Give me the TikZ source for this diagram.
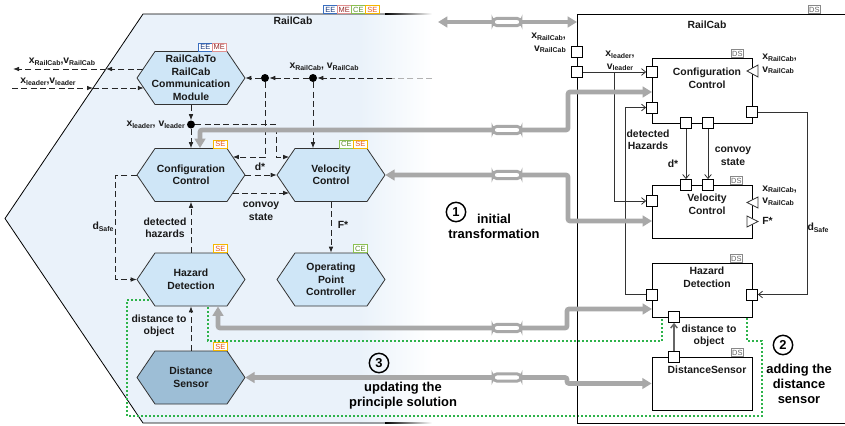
\documentclass[tikz,border=0pt]{standalone}
\usepackage{fontspec}
\setmainfont{Liberation Sans}
\usetikzlibrary{arrows.meta,calc}
\definecolor{hexfill}{HTML}{CFE6F7}
\definecolor{dsfill}{HTML}{9DBED6}
\definecolor{lbfill}{HTML}{EAF2FA}
\definecolor{gline}{HTML}{A8A8A8}
\definecolor{grn}{HTML}{2DB34A}
\definecolor{eeB}{HTML}{3A6FC0}\definecolor{eeT}{HTML}{1A3A80}
\definecolor{meB}{HTML}{E09090}\definecolor{meT}{HTML}{9A2A2A}
\definecolor{ceB}{HTML}{8CC152}\definecolor{ceT}{HTML}{5B8C2A}
\definecolor{seB}{HTML}{F5B700}\definecolor{seT}{HTML}{E8561A}
\definecolor{dsB}{HTML}{888888}\definecolor{dsT}{HTML}{666666}
\newcommand\lsub[1]{\raisebox{-0.3ex}{\fontsize{5.2}{5.2}\selectfont #1}}
\newcommand\hexnode[5]{%
  \filldraw[hexline, fill=#4] (#2-54,#3) -- (#2-36,#3-26.5) -- (#2+36,#3-26.5) -- (#2+54,#3) -- (#2+36,#3+26.5) -- (#2-36,#3+26.5) -- cycle;
  \node[hextext] (#1) at (#2,#3) {#5};}
\tikzset{
  lbl/.style={font=\bfseries\fontsize{7.8}{9.4}\selectfont, align=center, inner sep=0pt, text=black!90},
  bigl/.style={font=\bfseries\fontsize{9.7}{11.5}\selectfont, align=center, inner sep=0pt},
  hextext/.style={lbl, minimum width=81pt, minimum height=39.75pt},
  hexline/.style={draw=black!80, line width=0.6pt},
  dsh/.style={draw=black!85, line width=0.75pt, dash pattern=on 4.5pt off 2.5pt, -{Latex[length=4.5pt,width=3.5pt]}},
  dshn/.style={draw=black!85, line width=0.75pt, dash pattern=on 4.5pt off 2.5pt},
  dot/.style={circle, fill=black, minimum size=6pt, inner sep=0pt},
  tag/.style={draw, fill=white, minimum width=10.5pt, minimum height=6.2pt, inner sep=0pt, font=\fontsize{5.6}{5.6}\selectfont, anchor=south west, line width=0.5pt},
  tagEE/.style={tag, draw=eeB, text=eeT},
  tagME/.style={tag, draw=meB, text=meT},
  tagCE/.style={tag, draw=ceB, text=ceT},
  tagSE/.style={tag, draw=seB, text=seT},
  tagDS/.style={tag, draw=dsB, text=dsT, minimum width=9pt},
  rbox/.style={draw=black, fill=white, line width=0.6pt, inner sep=0pt},
  port/.style={draw=black, fill=white, line width=0.6pt, minimum size=8.25pt, inner sep=0pt},
  rline/.style={draw=black!80, line width=0.6pt},
  rarr/.style={rline, -{Straight Barb[length=3pt,width=5pt]}},
  garrow/.style={draw=gline, line width=3.5pt, rounded corners=1.5pt, {Triangle[length=7pt,width=8pt]}-{Triangle[length=7pt,width=8pt]}},
  capsule/.style={draw=gline, fill=white, line width=2.2pt, rounded corners=3pt, minimum width=21pt, minimum height=5.5pt, inner sep=0pt},
  grnbox/.style={draw=grn, line width=1pt, dash pattern=on 1.5pt off 1.5pt},
  circ/.style={circle, draw, line width=1.1pt, minimum size=14.5pt, inner sep=0pt, font=\bfseries\fontsize{9.7}{10}\selectfont},
}
\begin{document}
\begin{tikzpicture}[x=0.75pt,y=-0.75pt]
\useasboundingbox (0,0) rectangle (845,425);
\clip (0,0) rectangle (845,425);

% ---------- left RailCab ----------
\fill[lbfill] (143,14) -- (360,14) -- (360,423) -- (143,423) -- (5,218.5) -- cycle;
\shade[left color=lbfill, right color=white] (359.5,14) rectangle (432,423);
\draw[black, line width=0.6pt] (385,14) -- (143,14) -- (5,218.5) -- (143,423) -- (385,423);
\shade[left color=black, right color=white] (385,13.6) rectangle (432,14.4);
\shade[left color=black, right color=white] (385,422.6) rectangle (432,423.4);
\node[lbl] (lrc) at (293,21) {RailCab};
\node[tagEE] (tl1) at (323,14) {EE};
\node[tagME] (tl2) at (337,14) {ME};
\node[tagCE] (tl3) at (351,14) {CE};
\node[tagSE] (tl4) at (365,14) {SE};

% green dotted region
\draw[grnbox] (127,300) -- (208,300) -- (208,341) -- (662,341) -- (662,306) -- (747,306) -- (747,341) -- (762,341) -- (762,416) -- (127,416) -- cycle;

% hexagons
\hexnode{comm}{191}{78}{hexfill}{RailCabTo\\RailCab\\Communication\\Module}
\hexnode{cfg}{191}{175}{hexfill}{Configuration\\Control}
\hexnode{vel}{331}{175}{hexfill}{Velocity\\Control}
\hexnode{haz}{191}{279.5}{hexfill}{Hazard\\Detection}
\hexnode{opc}{331}{279.5}{hexfill}{Operating\\Point\\Controller}
\hexnode{dsn}{191}{377.5}{dsfill}{Distance\\Sensor}

\node[tagEE] (tc1) at (198,51.5) {EE};
\node[tagME] (tc2) at (212,51.5) {ME};
\node[tagSE] (tc3) at (213,148.5) {SE};
\node[tagCE] (tc4) at (339,148.5) {CE};
\node[tagSE] (tc5) at (353,148.5) {SE};
\node[tagSE] (tc6) at (213,253) {SE};
\node[tagCE] (tc7) at (353,253) {CE};
\node[tagSE] (tc8) at (213,351) {SE};

% dots and coordinates
\node[dot] (dot1) at (265,78) {};
\node[dot] (dot2) at (313,78) {};
\node[dot] (dot3) at (191,124.5) {};
\coordinate (xin) at (432,78);
\coordinate (xmid) at (392,78);
\coordinate (cmo) at (143.1,69);
\coordinate (bout) at (106,69);
\coordinate (lo) at (13,69);
\coordinate (li) at (12,88);
\coordinate (bin) at (93,88);
\coordinate (cmi) at (143.8,88);
\coordinate (cfgR1) at (232.8,157);
\coordinate (velL1) at (289.2,157);
\coordinate (cfgR2) at (232.8,193);
\coordinate (velL2) at (289.2,193);

% dashed connectors
\draw[dsh] (cmo) -- (bout);
\draw[dsh] (bout) -- (lo);
\draw[dsh] (li) -- (bin);
\draw[dsh] (bin) -- (cmi);
\draw[dshn, draw=black!30] (xin) -- (xmid);
\draw[dsh] (xmid) -- (dot2);
\draw[dsh] (dot2) -- (dot1);
\draw[dsh] (dot1) -- (comm.east);
\draw[dsh] (dot2) -- (dot2 |- vel.north);
\draw[dsh] (dot1) |- (cfgR1);
\draw[dsh] (comm.south) -- (dot3);
\draw[dsh] (dot3) -- (cfg.north);
\draw[dsh] (dot3) -- (276,124.5) |- (velL1);
\draw[dsh] (cfg.east) -- (vel.west);
\draw[dsh] (cfgR2) -- (velL2);
\draw[dsh] (cfg.west) -- ++(-21,0) |- (haz.west);
\draw[dsh] (haz.north) -- (cfg.south);
\draw[dsh] (vel.south) -- (opc.north);
\draw[dsh] (dsn.north) -- (haz.south);

% left labels
\node[lbl] (l1) at (62,62) {x\lsub{RailCab},v\lsub{RailCab}};
\node[lbl] (l2) at (48,82) {x\lsub{leader},v\lsub{leader}};
\node[lbl] (l3) at (324,67) {x\lsub{RailCab}, v\lsub{RailCab}};
\node[lbl, anchor=east] (l4) at (185,125) {x\lsub{leader}, v\lsub{leader}};
\node[lbl] (l5) at (260,167) {d*};
\node[lbl] (l6) at (261,211) {convoy\\state};
\node[lbl] (l7) at (103,227) {d\lsub{Safe}};
\node[lbl] (l8) at (165,228) {detected\\hazards};
\node[lbl] (l9) at (343,225) {F*};
\node[lbl] (l10) at (159,326) {distance to\\object};

% ---------- right RailCab ----------
\node[draw=black, line width=0.6pt, minimum width=212.25pt, minimum height=306.75pt, inner sep=0pt] (rcR) at (718.5,218.5) {};
\node[lbl] (rrc) at (707,25) {RailCab};
\node[tagDS] (td0) at (808,14) {DS};

\node[rbox, minimum width=75pt, minimum height=48.75pt] (cfgR) at (702,90.5) {};
\node[rbox, minimum width=75pt, minimum height=39.75pt] (velR) at (702,211.5) {};
\node[rbox, minimum width=75pt, minimum height=40.5pt] (hazR) at (702,290) {};
\node[rbox, minimum width=75pt, minimum height=39.75pt] (dsR) at (702,383.5) {};
\node[tagDS] (td1) at (731,58) {DS};
\node[tagDS] (td2) at (730,185) {DS};
\node[tagDS] (td3) at (730,263) {DS};
\node[tagDS] (td4) at (731,357) {DS};
\node[lbl] (cfgT) at (707,78.5) {Configuration\\Control};
\node[lbl] (velT) at (707,204.5) {Velocity\\Control};
\node[lbl] (hazT) at (707,277.5) {Hazard\\Detection};
\node[lbl] (dsT) at (707,370) {DistanceSensor};

% ports
\node[port] (p1) at (577,52) {};
\node[port] (p2) at (577,72) {};
\node[port] (cfgA) at (652,72) {};
\node[port] (cfgB) at (652,107.5) {};
\node[port] (cfgC) at (686,123) {};
\node[port] (cfgD) at (708,123) {};
\node[port] (cfgE) at (752,112) {};
\node[port] (velA) at (652,201) {};
\node[port] (velB) at (686,185) {};
\node[port] (velC) at (708,185) {};
\node[port] (hazA) at (652,294.5) {};
\node[port] (hazB) at (752,294.5) {};
\node[port] (hazC) at (674,317) {};
\node[port] (dsA) at (674,357) {};
\filldraw[rline, fill=white] (747,71) -- (758,65) -- (758,77) -- cycle;
\filldraw[rline, fill=white] (747,202.5) -- (758,197) -- (758,208) -- cycle;
\filldraw[rline, fill=white] (747,216) -- (758,221.5) -- (747,227) -- cycle;

% right connectors
\coordinate (br) at (614,72);
\draw[rarr] (p2.east) -- (cfgA.west);
\draw[rarr] (br) |- (velA.west);
\draw[rarr] (hazA.west) -- ++(-21,0) |- (cfgB.west);
\draw[rarr] (cfgC.south) -- (velB.north);
\draw[rarr] (cfgD.south) -- (velC.north);
\draw[rarr] (cfgE.east) -- ++(49,0) |- (hazB.east);
\draw[rarr, draw=black!60, line width=1.1pt] (dsA.north) -- (hazC.south);

% right labels
\node[lbl, align=right, anchor=east] (r1) at (566,43) {x\lsub{RailCab},\\v\lsub{RailCab}};
\node[lbl] (r2) at (620,61) {x\lsub{leader},\\v\lsub{leader}};
\node[lbl, align=left, anchor=west] (r3) at (762,64) {x\lsub{RailCab},\\v\lsub{RailCab}};
\node[lbl] (r4) at (648,140) {detected\\Hazards};
\node[lbl] (r5) at (673,164) {d*};
\node[lbl] (r6) at (733,156) {convoy\\state};
\node[lbl, align=left, anchor=west] (r7) at (762,195.5) {x\lsub{RailCab},\\v\lsub{RailCab}};
\node[lbl, anchor=west] (r8) at (762,221) {F*};
\node[lbl] (r9) at (818,228) {d\lsub{Safe}};
\node[lbl] (r10) at (709,336) {distance to\\object};

% ---------- gray transformation arrows ----------
\coordinate (g1a) at (438,22);
\coordinate (g1b) at (577,22);
\coordinate (g2a) at (200,148);
\coordinate (g2b) at (652,92);
\coordinate (g3b) at (652,221);
\coordinate (g4a) at (218,306.5);
\coordinate (g4b) at (652,309);
\draw[garrow] (g1a) -- (g1b);
\draw[garrow] (g2a) -- (200,130) -- (568,130) -- (568,92) -- (g2b);
\draw[garrow] (vel.east) -- (568,175) -- (568,221) -- (g3b);
\draw[garrow] (g4a) -- (218,328) -- (567,328) -- (567,309) -- (g4b);
\draw[garrow] (dsn.east) -- (567,377.5) -- (567,383.5) -- (dsR.west);
\node[capsule] (c1) at (507,22) {};
\node[capsule] (c2) at (507,130) {};
\node[capsule] (c3) at (507,175) {};
\node[capsule] (c4) at (507,328) {};
\node[capsule] (c5) at (507,377.5) {};

% step labels
\node[circ] (n1) at (456,212) {1};
\node[bigl] (s1) at (494,226.5) {initial\\transformation};
\node[circ] (n2) at (783,345) {2};
\node[bigl] (s2) at (799,384) {adding the\\distance\\sensor};
\node[circ] (n3) at (379,363) {3};
\node[bigl] (s3) at (403,395.5) {updating the\\principle solution};
\end{tikzpicture}
\end{document}
